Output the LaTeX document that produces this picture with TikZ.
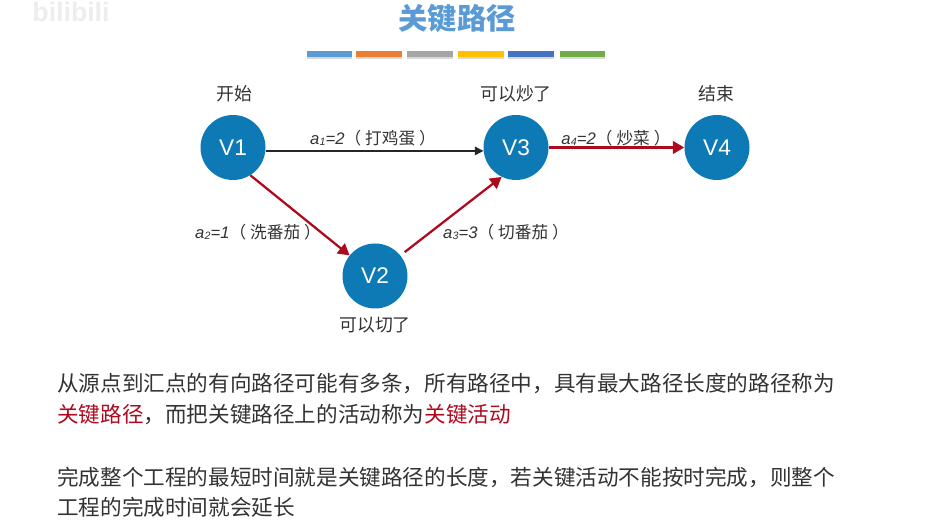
\documentclass[tikz,border=0pt]{standalone}
\usepackage{fontspec}
\setmainfont{Noto Sans CJK SC}
\newfontfamily\latinfont{Liberation Sans}
\usetikzlibrary{arrows.meta,shadows}
\definecolor{nodeblue}{HTML}{0E7AB5}
\definecolor{titleblue}{HTML}{5B9BD5}
\definecolor{keyred}{HTML}{AE0A1E}
\definecolor{bodygray}{HTML}{333333}
\newcommand{\arclabel}[3]{{\latinfont\itshape a\raisebox{-0.8pt}{\footnotesize\kern0.2pt #1}=#2}（\kern3pt #3\kern3pt ）}

\begin{document}
\begin{tikzpicture}[x=0.75pt,y=-0.75pt]
   \useasboundingbox (0,0) rectangle (934,523);
   \tikzstyle{main}=[circle, fill=nodeblue, text=white, minimum size=48.75pt, inner sep=0pt, font=\latinfont\fontsize{17}{20}\selectfont]
   \tikzstyle{caption}=[text=bodygray, inner sep=0pt, font=\fontsize{13.4}{16}\selectfont]
   \tikzstyle{arclabel}=[text=bodygray, inner sep=0pt, font=\fontsize{12.5}{15}\selectfont]
   \tikzstyle{body}=[anchor=west, text=bodygray, inner sep=0pt, font=\fontsize{16.2}{20}\selectfont]
   \tikzstyle{critical}=[draw=keyred, line width=1.7pt, -{Triangle[length=8.5pt,width=9.5pt]}]
   \tikzstyle{normal}=[draw=black!85, line width=0.9pt, -{Triangle[length=6.5pt,width=6.5pt]}]
   \node[text=black!7, font=\latinfont\bfseries\fontsize{20}{24}\selectfont, inner sep=0pt] (logo) at (71,12) {bilibili};
   \node[text=titleblue, inner sep=0pt, font=\bfseries\fontsize{22}{26}\selectfont] (title) at (457,19) {关键路径};
   \foreach \x/\w/\c in {307/45/5B9BD5,356/46/ED7D31,407/46/A5A5A5,458/46/FFC000,508/46/4472C4,560/45/70AD47} {
       \definecolor{barcolor}{HTML}{\c}
       \fill[barcolor, drop shadow={shadow xshift=0pt,shadow yshift=-1.2pt,opacity=0.3}] (\x,51) rectangle (\x+\w,57);
   }
   \foreach \i/\px/\py in {1/233/147.5,2/375/276,3/516/147.5,4/717/147.5} {
       \node[main] (v\i) at (\px,\py) {V\i};
   }
   \node[caption] (start) at (234,94) {开始};
   \node[caption] (cook) at (516,94) {可以炒了};
   \node[caption] (finish) at (716,94) {结束};
   \node[caption] (cut) at (375,325) {可以切了};
   \path[normal] (v1.-6) -- (v3.186);
   \path[critical] (v1.-58) -- (v2.141);
   \path[critical, shorten <=4pt] (v2.39) -- (v3.-116);
   \path[critical] (v3.east) -- (v4.west);
   \node[arclabel] (a1) at (373,138) {\arclabel{1}{2}{打鸡蛋}};
   \node[arclabel] (a2) at (258,232) {\arclabel{2}{1}{洗番茄}};
   \node[arclabel] (a3) at (506,232) {\arclabel{3}{3}{切番茄}};
   \node[arclabel] (a4) at (616,138) {\arclabel{4}{2}{炒菜}};
   \node[body] (line1) at (57,384) {从源点到汇点的有向路径可能有多条，所有路径中，具有最大路径长度的路径称为};
   \node[body] (line2) at (57,415) {{\color{keyred}关键路径}，而把关键路径上的活动称为{\color{keyred}关键活动}};
   \node[body] (line3) at (57,477) {完成整个工程的最短时间就是关键路径的长度，若关键活动不能按时完成，则整个};
   \node[body] (line4) at (57,507) {工程的完成时间就会延长};
\end{tikzpicture}
\end{document}
